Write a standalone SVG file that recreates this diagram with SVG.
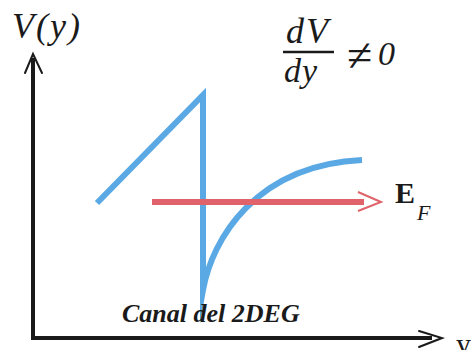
<svg xmlns="http://www.w3.org/2000/svg" width="471" height="350" viewBox="0 0 471 350">
<style>
.axis{stroke:#1a1a1a;stroke-width:4;fill:none}
.head{stroke:#1a1a1a;stroke-width:2;fill:none;stroke-linecap:round;stroke-linejoin:miter}
.it{font-style:italic}
</style>
<rect width="471" height="350" fill="#ffffff"/>
<g id="axes">
<line class="axis" x1="33" y1="58" x2="33" y2="338"/>
<line class="axis" x1="31" y1="338" x2="432" y2="338"/>
<polyline class="head" points="25,73 33,54 42,73"/>
<polyline class="head" points="419,331 442,338 419,347"/>
</g>
<g id="potential">
<path d="M97,203 L203,95 L203,290 C212,240 255,165 362,160" fill="none" stroke="#5aa9e4" stroke-width="6" stroke-linejoin="miter" stroke-miterlimit="20"/>
</g>
<g id="fermi">
<line x1="152" y1="202" x2="364" y2="202" stroke="#e0626a" stroke-width="6"/>
<polyline points="358,192 381,202 358,211" fill="none" stroke="#e0626a" stroke-width="2"/>
</g>
<g id="labels" font-family="Liberation Serif, DejaVu Serif, serif" fill="#1a1a1a">
<text class="it" x="12" y="38" font-size="36" letter-spacing="2">V(y)</text>
<text class="it" x="286" y="43" font-size="36" letter-spacing="2">dV</text>
<line x1="283" y1="52" x2="334" y2="52" stroke="#1a1a1a" stroke-width="2.5"/>
<text class="it" x="284" y="82" font-size="34" letter-spacing="1">dy</text>
<text x="347" y="71" font-size="46">≠</text>
<text class="it" x="378" y="65" font-size="34">0</text>
<text x="395" y="203" font-size="30" font-weight="bold">E</text>
<text class="it" x="417" y="220" font-size="22">F</text>
<text class="it" x="122" y="322" font-size="26" font-weight="bold">Canal del 2DEG</text>
<text x="456" y="354" font-size="30">y</text>
</g>
</svg>
